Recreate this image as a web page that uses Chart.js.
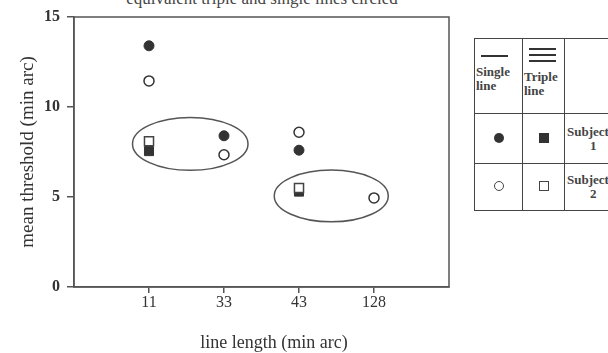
<!DOCTYPE html>
<html>
<head>
<meta charset="utf-8">
<script src="https://cdn.jsdelivr.net/npm/chart.js@4"></script>
<style>
  html, body { margin: 0; padding: 0; background: #fff; }
  body { width: 608px; height: 353px; overflow: hidden; position: relative;
         font-family: "Liberation Serif", "DejaVu Serif", serif; color: #333; }
  #wrap { position: absolute; left: 0; top: 0; width: 460px; height: 353px; }
  #topTitle { position: absolute; top: -10px; left: 262px; transform: translateX(-50%);
              font-size: 17px; line-height: 17px; white-space: nowrap; color: #444; }
  #xTitle { position: absolute; top: 333px; left: 274px; transform: translateX(-50%);
            font-size: 18px; line-height: 18px; white-space: nowrap; color: #333; }
  #legendBox { position: absolute; left: 474px; top: 38px; width: 160px; }
  table { border-collapse: collapse; table-layout: fixed; width: 150px;
          font-size: 13px; font-weight: bold; line-height: 14px; color: #444; }
  td { border: 1px solid #444; padding: 0; vertical-align: middle; text-align: center; overflow: hidden; }
  .c1 { width: 47px; } .c2 { width: 41px; } .c3 { width: 60px; }
  .hdr td { height: 74px; vertical-align: top; text-align: left; }
  .r1 td { height: 49px; } .r2 td { height: 46px; }
  .ln { width: 27px; height: 2px; background: #333; margin-left: 6px; }
  .lbl { padding-left: 1px; margin-top: 8px; }
  .dot { display: inline-block; width: 10px; height: 10px; border-radius: 50%; box-sizing: border-box; }
  .sq { display: inline-block; width: 10px; height: 10px; box-sizing: border-box; }
  .fill { background: #333; }
  .open { border: 1.5px solid #444; background: #fff; }
  .subj { text-align: left; padding-left: 2px; white-space: nowrap; }
</style>
</head>
<body>
<div id="topTitle">equivalent triple and single lines circled</div>
<div id="wrap"><canvas id="myChart"></canvas></div>
<div id="xTitle">line length (min arc)</div>

<div id="legendBox">
<table>
  <tr class="hdr">
    <td class="c1"><div class="ln" style="margin-top:16px"></div><div class="lbl">Single<br>line</div></td>
    <td class="c2"><div class="ln" style="margin-top:9px"></div><div class="ln" style="margin-top:4px"></div><div class="ln" style="margin-top:4px"></div><div class="lbl" style="margin-top:8px">Triple<br>line</div></td>
    <td class="c3"></td>
  </tr>
  <tr class="r1">
    <td><span class="dot fill"></span></td>
    <td><span class="sq fill"></span></td>
    <td class="subj">Subject<br><span style="padding-left:23px">1</span></td>
  </tr>
  <tr class="r2">
    <td><span class="dot open"></span></td>
    <td><span class="sq open"></span></td>
    <td class="subj">Subject<br><span style="padding-left:23px">2</span></td>
  </tr>
</table>
</div>

<script>
// line lengths (min arc) shown as evenly spaced categories
const lineLengths = ['11', '33', '43', '128'];

// mean threshold (min arc)
const subj1Single = [13.4, 8.4, 7.6, null];
const subj2Single = [11.45, 7.35, 8.6, 4.95];
const subj1Triple = [7.55, null, 5.3, null];
const subj2Triple = [8.1, null, 5.5, null];

// circled groups: centre (category index, threshold) and half extents
const circleX = [0.55, 2.43];
const circleY = [7.95, 5.06];
const circleRx = [0.77, 0.76];
const circleRy = [1.47, 1.44];

const toPoints = arr => arr.map((v, i) => ({ x: i, y: v })).filter(p => p.y !== null);

// frame round the plot and the circled groups
const extras = {
  id: 'extras',
  afterDatasetsDraw(chart) {
    const { ctx, chartArea, scales } = chart;
    ctx.save();
    ctx.strokeStyle = '#555';
    ctx.lineWidth = 1.5;
    ctx.strokeRect(chartArea.left, chartArea.top, chartArea.right - chartArea.left, chartArea.bottom - chartArea.top);
    for (let i = 0; i < circleX.length; i++) {
      const cx = scales.x.getPixelForValue(circleX[i]);
      const cy = scales.y.getPixelForValue(circleY[i]);
      const rx = Math.abs(scales.x.getPixelForValue(circleX[i] + circleRx[i]) - cx);
      const ry = Math.abs(scales.y.getPixelForValue(circleY[i] + circleRy[i]) - cy);
      ctx.beginPath();
      ctx.ellipse(cx, cy, rx, ry, 0, 0, Math.PI * 2);
      ctx.stroke();
    }
    ctx.restore();
  }
};

const serif = '"Liberation Serif", "DejaVu Serif", serif';

new Chart(document.getElementById('myChart'), {
  type: 'scatter',
  data: {
    datasets: [
      { label: 'Subject 2 triple', data: toPoints(subj2Triple), pointStyle: 'rect', pointRadius: 6.4,
        backgroundColor: '#fff', borderColor: '#444', borderWidth: 1.5 },
      { label: 'Subject 1 triple', data: toPoints(subj1Triple), pointStyle: 'rect', pointRadius: 6.4,
        backgroundColor: '#333', borderColor: '#333', borderWidth: 1 },
      { label: 'Subject 1 single', data: toPoints(subj1Single), pointStyle: 'circle', pointRadius: 5,
        backgroundColor: '#333', borderColor: '#333', borderWidth: 1 },
      { label: 'Subject 2 single', data: toPoints(subj2Single), pointStyle: 'circle', pointRadius: 5,
        backgroundColor: '#fff', borderColor: '#333', borderWidth: 1.5 }
    ]
  },
  options: {
    responsive: true,
    maintainAspectRatio: false,
    animation: false,
    layout: { padding: { top: 17, right: 11, left: 0, bottom: 0 } },
    plugins: { legend: { display: false }, tooltip: { enabled: false } },
    scales: {
      x: {
        type: 'linear', min: -1, max: 4,
        afterBuildTicks: s => { s.ticks = lineLengths.map((_, i) => ({ value: i })); },
        afterFit: s => { s.height = 66; },
        ticks: { callback: v => lineLengths[v], color: '#333', padding: 0,
                 font: { family: serif, size: 16 }, maxRotation: 0 },
        grid: { drawOnChartArea: false, tickLength: 6, color: '#555', lineWidth: 1.5 },
        border: { color: '#555', width: 1.5 }
      },
      y: {
        min: 0, max: 15,
        afterFit: s => { s.width = 74; },
        ticks: { stepSize: 5, color: '#333', padding: 7,
                 font: { family: serif, size: 16, weight: 'bold' } },
        grid: { drawOnChartArea: false, tickLength: 7, color: '#555', lineWidth: 1.5 },
        border: { color: '#555', width: 1.5 },
        title: { display: true, text: 'mean threshold (min arc)', color: '#333',
                 font: { family: serif, size: 19 }, padding: { top: 17, bottom: 0 } }
      }
    }
  },
  plugins: [extras]
});
</script>
</body>
</html>
